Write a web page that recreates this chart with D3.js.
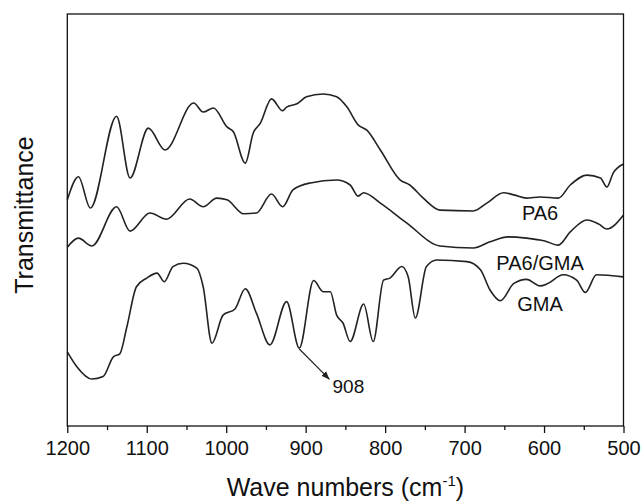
<!DOCTYPE html>
<html>
<head>
<meta charset="utf-8">
<script src="https://cdn.jsdelivr.net/npm/d3@7"></script>
<style>
  body { margin: 0; background: #fff; }
  svg { font-family: "Liberation Sans", Arial, sans-serif; }
  .spectrum { fill: none; stroke: #222; stroke-width: 1.6; }
</style>
</head>
<body>
<svg id="chart" width="642" height="502"></svg>
<script>
// wavenumber (cm-1), transmittance (a.u.)
const pa6 = [
  [1200, 54.9], [1186, 60.5], [1171, 52.9], [1138, 75.2], [1121, 60.2],
  [1098, 72.3], [1077, 67.0], [1041, 78.4], [1029, 76.2], [1016, 77.2],
  [999, 72.6], [991, 71.4], [976, 63.8], [966, 71.1], [957, 73.5],
  [943, 79.4], [929, 76.5], [924, 77.4], [911, 78.2], [899, 79.9],
  [878, 80.6], [861, 79.9], [848, 77.4], [834, 73.1], [823, 71.8],
  [806, 67.0], [781, 59.7], [769, 58.5], [752, 55.3], [731, 52.4],
  [689, 52.2], [672, 54.1], [651, 56.6], [638, 56.1], [622, 55.3],
  [605, 55.6], [582, 55.3], [567, 58.5], [546, 60.9], [529, 60.2],
  [521, 58.0], [513, 61.4], [500, 63.6]
];

const pa6Gma = [
  [1200, 43.4], [1186, 45.6], [1169, 43.7], [1138, 53.2], [1121, 47.3],
  [1096, 51.7], [1075, 50.2], [1046, 55.1], [1029, 53.2], [1012, 55.3],
  [999, 54.9], [978, 51.5], [962, 51.7], [943, 56.3], [929, 53.2],
  [916, 57.3], [894, 59.0], [861, 59.7], [844, 58.5], [834, 55.8],
  [827, 56.6], [806, 54.1], [773, 49.3], [731, 43.7], [689, 43.2],
  [668, 44.7], [645, 45.9], [622, 45.6], [599, 44.9], [582, 43.9],
  [567, 47.1], [546, 50.0], [531, 49.0], [521, 47.8], [500, 51.2]
];

const gma = [
  [1200, 18.0], [1188, 14.4], [1169, 11.4], [1155, 12.0], [1142, 16.8],
  [1134, 17.5], [1125, 24.1], [1113, 33.8], [1100, 35.9], [1087, 37.1],
  [1078, 35.0], [1067, 38.7], [1054, 39.5], [1037, 38.3], [1029, 33.8],
  [1018, 20.1], [1004, 26.9], [989, 28.4], [976, 33.3], [962, 27.4],
  [945, 19.7], [924, 30.2], [908, 18.9], [890, 35.3], [878, 32.6],
  [869, 32.6], [861, 26.9], [853, 25.0], [844, 20.5], [827, 29.6],
  [815, 20.5], [802, 35.4], [794, 35.9], [779, 38.7], [771, 36.2],
  [762, 26.2], [748, 38.7], [735, 40.3], [697, 39.9], [680, 37.9],
  [668, 33.0], [655, 30.4], [638, 34.6], [622, 35.6], [605, 34.0],
  [596, 34.5], [576, 36.7], [559, 35.4], [548, 32.4], [534, 36.7],
  [500, 36.2]
];

const series = [
  { name: "PA6", values: pa6 },
  { name: "PA6/GMA", values: pa6Gma },
  { name: "GMA", values: gma }
];

const xTicks = [1200, 1100, 1000, 900, 800, 700, 600, 500];
const xMinorTicks = [1150, 1050, 950, 850, 750, 650, 550];

// label anchors in data units: [wavenumber, transmittance at baseline]
const labels = [
  { text: "PA6", at: [605, 50.0] },
  { text: "PA6/GMA", at: [605, 37.9] },
  { text: "GMA", at: [605, 27.9] }
];
const peak = { text: "908", from: [908, 18.7], to: [870, 11.3] };

const svg = d3.select("#chart");
const margin = { top: 14, right: 18.5, bottom: 76, left: 67.3 };
const width = 642 - margin.left - margin.right;
const height = 502 - margin.top - margin.bottom;

const x = d3.scaleLinear().domain([1200, 500]).range([0, width]);
const y = d3.scaleLinear().domain([0, 100]).range([height, 0]);

svg.append("defs").append("marker")
  .attr("id", "arrowhead")
  .attr("viewBox", "0 -5 10 10")
  .attr("refX", 10)
  .attr("refY", 0)
  .attr("markerWidth", 7)
  .attr("markerHeight", 7)
  .attr("orient", "auto")
  .append("path")
  .attr("d", "M0,-4L10,0L0,4Z")
  .attr("fill", "#222");

const g = svg.append("g").attr("transform", `translate(${margin.left},${margin.top})`);

// spectra
const line = d3.line()
  .x(d => x(d[0]))
  .y(d => y(d[1]))
  .curve(d3.curveMonotoneX);

g.selectAll(".spectrum")
  .data(series)
  .enter()
  .append("path")
  .attr("class", "spectrum")
  .attr("d", d => line(d.values));

// frame
g.append("rect")
  .attr("width", width)
  .attr("height", height)
  .attr("fill", "none")
  .attr("stroke", "#111")
  .attr("stroke-width", 1.3);

// x axis
const xAxis = g.append("g")
  .attr("transform", `translate(0,${height})`)
  .call(d3.axisBottom(x).tickValues(xTicks).tickSize(7).tickPadding(8).tickFormat(d3.format("d")));
xAxis.select(".domain").remove();
xAxis.selectAll("line").attr("stroke", "#111").attr("stroke-width", 1.3);
xAxis.selectAll("text").attr("font-size", 20).attr("fill", "#111");

const xMinor = g.append("g")
  .attr("transform", `translate(0,${height})`)
  .call(d3.axisBottom(x).tickValues(xMinorTicks).tickSize(4).tickFormat(""));
xMinor.select(".domain").remove();
xMinor.selectAll("line").attr("stroke", "#111").attr("stroke-width", 1.3);

// axis titles
const xTitle = svg.append("text")
  .attr("x", margin.left + width / 2)
  .attr("y", 496)
  .attr("text-anchor", "middle")
  .attr("font-size", 25)
  .attr("fill", "#111");
xTitle.append("tspan").text("Wave numbers (cm");
xTitle.append("tspan").attr("font-size", 15).attr("dy", -10).text("-1");
xTitle.append("tspan").attr("dy", 10).text(")");

svg.append("text")
  .attr("transform", `translate(33,${margin.top + 201}) rotate(-90)`)
  .attr("text-anchor", "middle")
  .attr("font-size", 25)
  .attr("fill", "#111")
  .text("Transmittance");

// curve labels
g.selectAll(".label")
  .data(labels)
  .enter()
  .append("text")
  .attr("class", "label")
  .attr("x", d => x(d.at[0]))
  .attr("y", d => y(d.at[1]))
  .attr("font-size", 20)
  .attr("fill", "#111")
  .attr("text-anchor", "middle")
  .text(d => d.text);

// 908 annotation
g.append("line")
  .attr("x1", x(peak.from[0]))
  .attr("y1", y(peak.from[1]))
  .attr("x2", x(peak.to[0]))
  .attr("y2", y(peak.to[1]))
  .attr("stroke", "#222")
  .attr("stroke-width", 1.2)
  .attr("marker-end", "url(#arrowhead)");

g.append("text")
  .attr("x", x(peak.to[0]) + 3)
  .attr("y", y(peak.to[1]) + 14)
  .attr("font-size", 19)
  .attr("fill", "#111")
  .text(peak.text);
</script>
</body>
</html>
